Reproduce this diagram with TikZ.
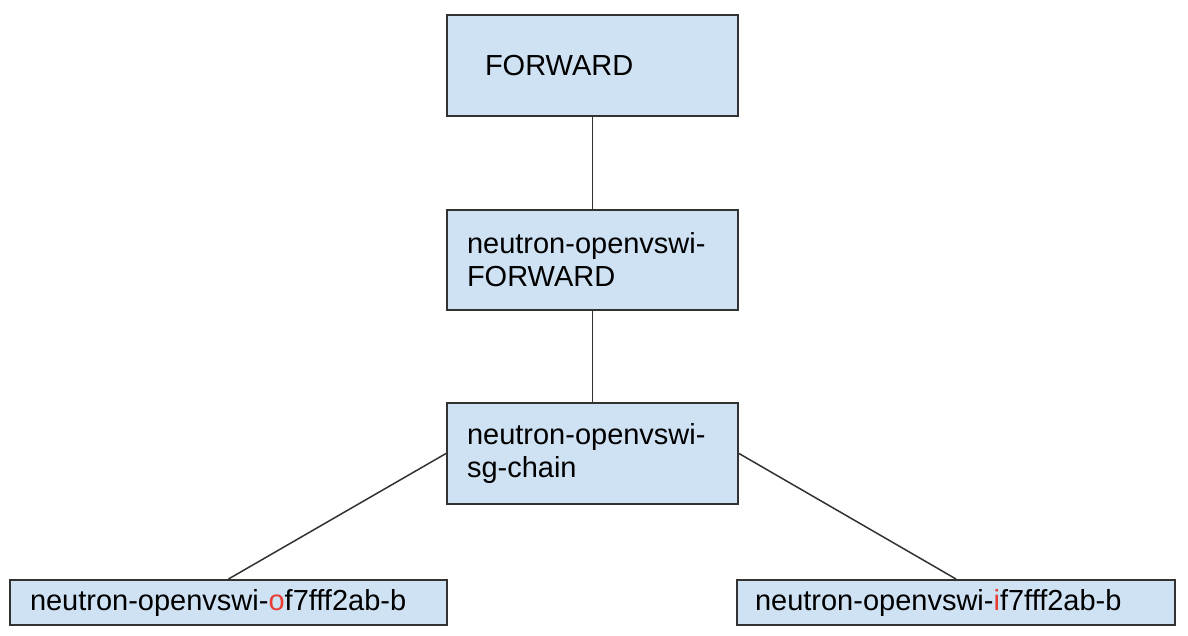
\documentclass[tikz,border=0pt]{standalone}
\usepackage{fontspec}
\setmainfont{Liberation Sans}
\definecolor{boxblue}{RGB}{207,226,243}
\definecolor{boxline}{RGB}{50,50,50}
\definecolor{hlred}{RGB}{230,60,50}
\begin{document}
\begin{tikzpicture}[x=1pt,y=-1pt,
  box/.style={draw=boxline,line width=2pt,fill=boxblue,rectangle,align=left,
    inner ysep=0pt,font=\fontsize{29}{33}\selectfont},
  link/.style={draw=boxline,line width=1.5pt}]
\useasboundingbox[fill=white] (0,0) rectangle (1188,636);
\node[box,minimum width=291pt,minimum height=101pt,text width=215pt,inner xsep=38pt] (fwd) at (592.5,65.5) {FORWARD};
\node[box,minimum width=291pt,minimum height=100pt,text width=251pt,inner xsep=20pt] (nof) at (592.5,260) {neutron-openvswi-\\FORWARD};
\node[box,minimum width=291pt,minimum height=101pt,text width=251pt,inner xsep=20pt] (sg) at (592.5,453.5) {neutron-openvswi-\\sg-chain};
\node[box,minimum width=437pt,minimum height=45pt,text width=397pt,inner xsep=20pt] (out) at (228.5,602.5) {neutron-openvswi-\textcolor{hlred}{o}f7fff2ab-b};
\node[box,minimum width=438pt,minimum height=45pt,text width=402pt,inner xsep=18pt] (in) at (956,602.5) {neutron-openvswi-\textcolor{hlred}{i}f7fff2ab-b};
\draw[link] (fwd.south) -- (nof.north);
\draw[link] (nof.south) -- (sg.north);
\draw[link] (sg.west) -- (out.north);
\draw[link] (sg.east) -- (in.north);
\end{tikzpicture}
\end{document}
